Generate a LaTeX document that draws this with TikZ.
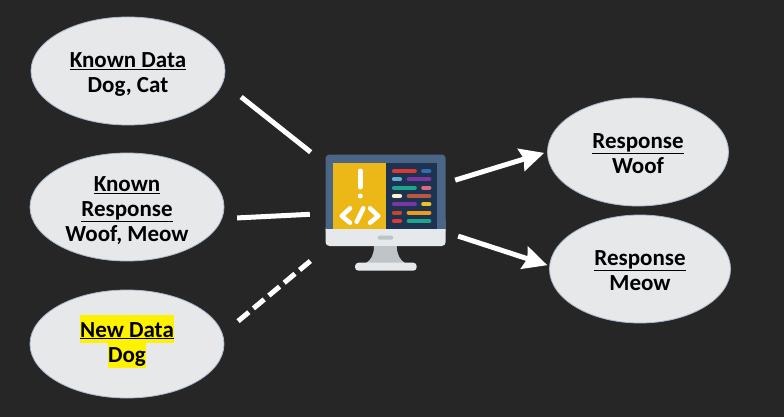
\documentclass[tikz,border=0pt]{standalone}
\usepackage{fontspec}
\setmainfont{Carlito}
\usetikzlibrary{arrows.meta,shapes.geometric}

\definecolor{slate}{HTML}{262626}
\definecolor{blobfill}{HTML}{E7E8EA}
\definecolor{blobedge}{HTML}{A9BACD}
\definecolor{frameblue}{HTML}{4A6585}
\definecolor{codeblue}{HTML}{1E3350}
\definecolor{panel}{HTML}{EBB817}
\definecolor{bezel}{HTML}{E6E9EC}
\definecolor{standgrey}{HTML}{BFC4C8}

\tikzset{
	blob/.style={ellipse,draw=blobedge,fill=blobfill,line width=0.8pt,inner sep=0pt,align=center,text=black,font=\fontsize{23}{25}\selectfont\bfseries},
	wire/.style={white,line width=5pt},
	wirearrow/.style={wire,-{Stealth[length=24pt,width=23pt,inset=3pt]}},
}
\newcommand{\hilite}[2]{\setlength{\fboxsep}{0pt}\colorbox{yellow}{\rule[-6pt]{0pt}{#1}#2}}
\newcommand{\headline}[2][22pt]{\rule{0pt}{#1}\underline{#2}}

\begin{document}
\begin{tikzpicture}[x=1pt,y=-1pt]
	\fill[slate] (0,0) rectangle (784,417);
	\useasboundingbox (0,0) rectangle (784,417);

	\node[blob,minimum width=194pt,minimum height=108pt] (knowndata) at (128,71){\headline{Known Data}\\Dog, Cat};
	\node[blob,minimum width=194pt,minimum height=108pt] (knownresp) at (127,207){\headline{Known}\\\underline{Response}\\Woof, Meow};
	\node[blob,minimum width=194pt,minimum height=108pt] (newdata) at (127,344){\hilite{28pt}{\underline{New Data}}\\\hilite{25pt}{Dog}\rule[-11pt]{0pt}{1pt}};
	\node[blob,minimum width=181pt,minimum height=108pt] (woof) at (638,152){\headline[18pt]{Response}\\Woof};
	\node[blob,minimum width=181pt,minimum height=108pt] (meow) at (640,269){\headline[18pt]{Response}\\Meow};
	\node[minimum width=121pt,minimum height=117pt,inner sep=0pt] (monitor) at (385.5,212.5){};

	\fill[frameblue,rounded corners=4pt] (325.5,154.5) rectangle (445.7,235);
	\fill[bezel,rounded corners=4pt] (325.5,225) rectangle (445.7,246);
	\fill[frameblue] (325.5,220) rectangle (445.7,229.3);
	\fill[codeblue] (333.3,162.7) rectangle (437.3,229.3);
	\fill[panel] (333.3,162.7) rectangle (385.7,229.3);
	\fill[standgrey,rounded corners=2pt] (377.7,235.7) rectangle (393.3,239.7);
	\fill[standgrey] (374,246) .. controls (374,255) and (371,260) .. (366,263) -- (405,263) .. controls (400,260) and (397,255) .. (396.7,246) -- cycle;
	\fill[bezel,rounded corners=3.5pt] (355,262.7) rectangle (416.7,270.7);

	\draw[white,line width=5pt,line cap=round] (360.3,171) -- (360.3,187);
	\fill[white] (360.3,196) circle (2.5pt);
	\draw[white,line width=4.5pt,line cap=round,line join=round] (350,208.3) -- (341.7,216) -- (350,222.7);
	\draw[white,line width=4.5pt,line cap=round] (363.3,208.3) -- (356.7,221.7);
	\draw[white,line width=4.5pt,line cap=round,line join=round] (370,208.3) -- (378.3,216) -- (370,222.7);

	\foreach \y/\ca/\cb in {171/D93A34/2F6DB5,187.7/1FA58C/E0697F,204.3/7B36A0/F1C11D}
		{
		\definecolor{barone}{HTML}{\ca}
		\definecolor{bartwo}{HTML}{\cb}
		\draw[barone,line width=4.3pt,line cap=round] (394,\y) -- (414.7,\y);
		\draw[bartwo,line width=4.3pt,line cap=round] (423.3,\y) -- (429.3,\y);
		}
	\foreach \y/\ca/\cb in {179.3/5FAFD0/7B36A0,196/FBF0CF/B9583F,212.7/C0472A/EE9A1E,221/D93A34/1FA58C}
		{
		\definecolor{barone}{HTML}{\ca}
		\definecolor{bartwo}{HTML}{\cb}
		\draw[barone,line width=4.3pt,line cap=round] (394,\y) -- (400,\y);
		\draw[bartwo,line width=4.3pt,line cap=round] (408.7,\y) -- (429.3,\y);
		}

	\draw[wire,shorten <=23pt,shorten >=18pt] (knowndata.-7) -- (monitor.141.3);
	\draw[wire,shorten <=15pt,shorten >=15pt] (knownresp.-7.5) -- (monitor.181.4);
	\draw[wire,dash pattern=on 14pt off 6pt,shorten <=20pt,shorten >=16pt] (newdata.6) -- (monitor.211.4);
	\draw[wirearrow,shorten <=9.4pt,shorten >=3pt] (monitor.26.1) -- (woof.west);
	\draw[wirearrow,shorten <=12.6pt,shorten >=2pt] (monitor.-18) -- (meow.178);

\end{tikzpicture}
\end{document}
